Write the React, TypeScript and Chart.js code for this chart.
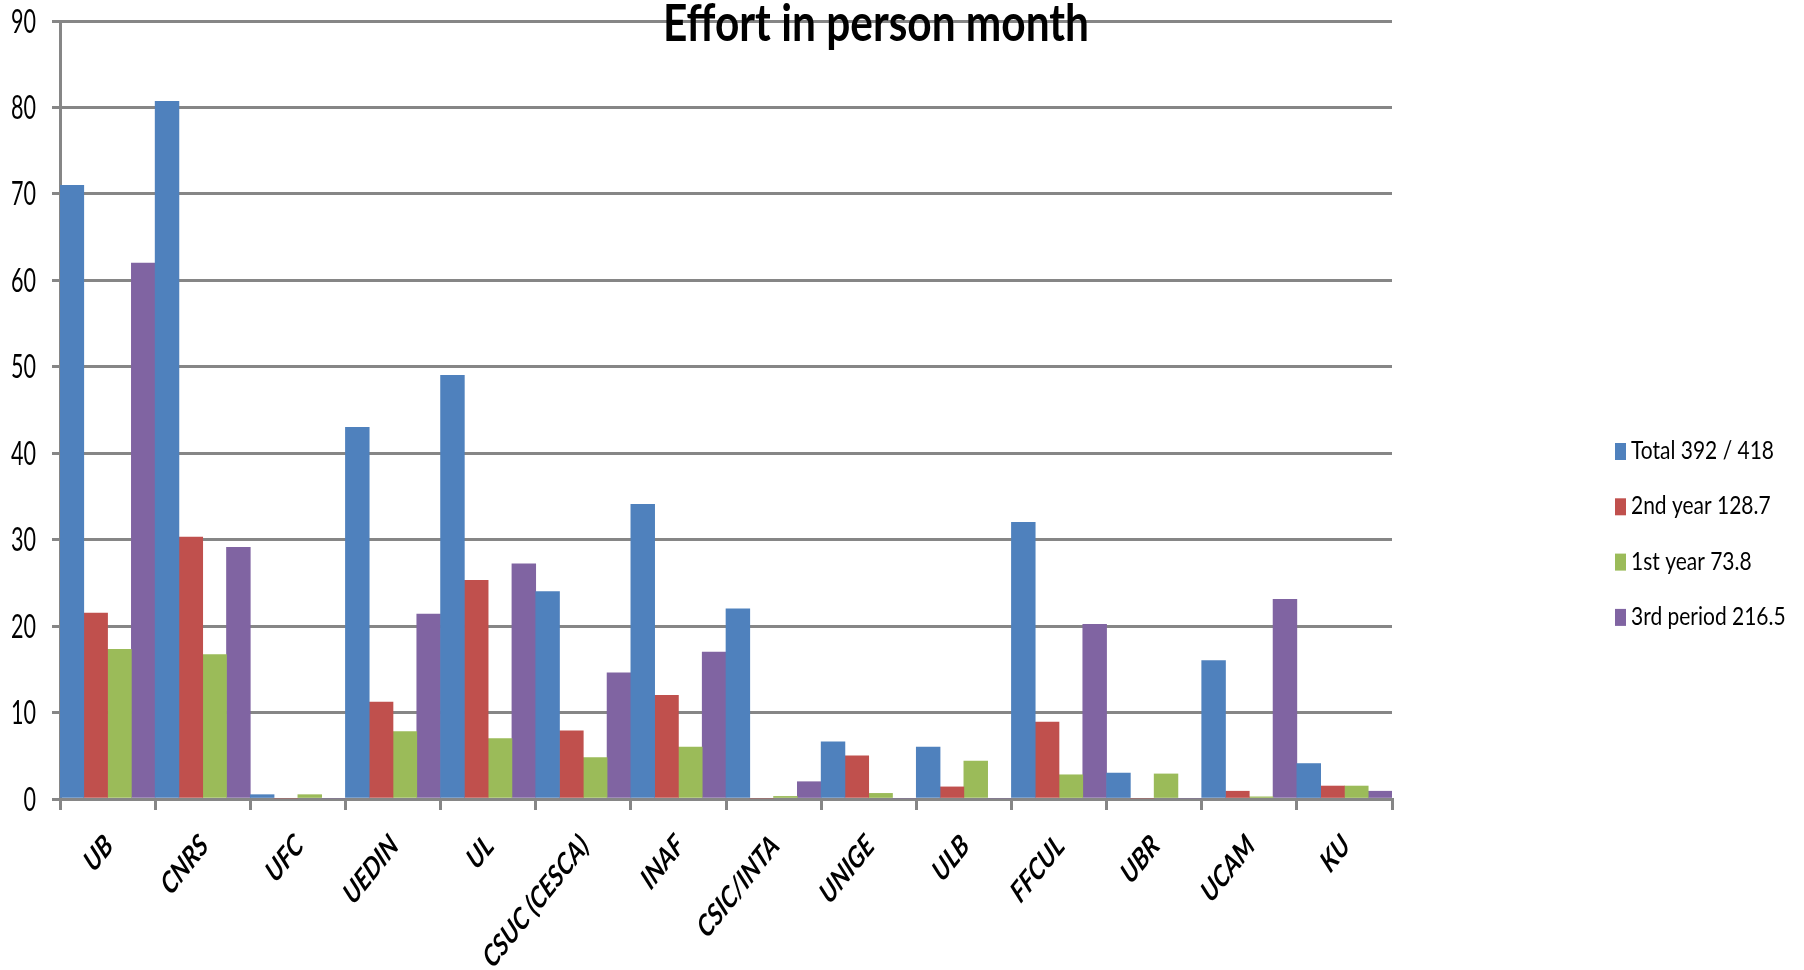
import React, { useEffect, useRef } from "react";
import { Chart, registerables } from "chart.js";

Chart.register(...registerables);

const FONT = "Lato, 'Open Sans', sans-serif";

const TITLE = "Effort in person month";

const categories = [
  "UB", "CNRS", "UFC", "UEDIN", "UL", "CSUC (CESCA)", "INAF",
  "CSIC/INTA", "UNIGE", "ULB", "FFCUL", "UBR", "UCAM", "KU",
];

const seriesLabels = ["Total 392 / 418", "2nd year 128.7", "1st year 73.8", "3rd period 216.5"];

const totalValues = [71, 80.7, 0.5, 43, 49, 24, 34.1, 22, 6.6, 6, 32, 3, 16, 4.1];
const secondYear = [21.5, 30.3, 0, 11.2, 25.3, 7.9, 12, 0, 5, 1.4, 8.9, 0, 0.9, 1.5];
const firstYear = [17.3, 16.7, 0.5, 7.8, 7, 4.8, 6, 0.3, 0.65, 4.4, 2.8, 2.9, 0.25, 1.5];
const thirdPeriod = [62, 29.1, 0, 21.4, 27.2, 14.6, 17, 2, 0, 0, 20.2, 0, 23.1, 0.9];

const colors = ["#4F81BD", "#C0504D", "#9BBB59", "#8064A2"];

const yTicks = [0, 10, 20, 30, 40, 50, 60, 70, 80, 90];

const GRID = "#868686";
const STRETCH = 1.25;

export default function App() {
  const ref = useRef<HTMLCanvasElement | null>(null);

  useEffect(() => {
    if (!ref.current) return;

    const textPlugin = {
      id: "customText",
      afterDraw(chart: any) {
        const ctx = chart.ctx;
        ctx.save();
        ctx.fillStyle = "#000";
        ctx.textBaseline = "alphabetic";

        // Title
        ctx.font = `bold 52px ${FONT}`;
        let sx = 426 / ctx.measureText(TITLE).width;
        ctx.save();
        ctx.translate(876, 41);
        ctx.scale(sx, 1);
        ctx.textAlign = "center";
        ctx.fillText(TITLE, 0, 0);
        ctx.restore();

        // Y tick labels
        const ys = chart.scales.y;
        ctx.font = `32px ${FONT}`;
        sx = 25 / ctx.measureText("90").width;
        ys.ticks.forEach((t: any) => {
          const py = ys.getPixelForValue(t.value);
          ctx.save();
          ctx.translate(36, py + 11.5);
          ctx.scale(sx, 1);
          ctx.textAlign = "right";
          ctx.fillText(String(t.value), 0, 0);
          ctx.restore();
        });

        // X tick labels (rotated, stretched vertically)
        const xs = chart.scales.x;
        ctx.font = `italic bold 24px ${FONT}`;
        sx = 138 / ctx.measureText("CSUC (CESCA)").width;
        const capH = 17;
        chart.data.labels.forEach((lab: string, i: number) => {
          const px = xs.getPixelForValue(i);
          ctx.save();
          ctx.translate(px + 1, 840);
          ctx.scale(1, STRETCH);
          ctx.rotate(-Math.PI / 4);
          ctx.scale(sx, 1);
          ctx.textAlign = "right";
          ctx.fillText(lab, 0, capH / 2);
          ctx.restore();
        });

        // Legend
        ctx.font = `24.5px ${FONT}`;
        sx = 143 / ctx.measureText(seriesLabels[0]).width;
        chart.data.datasets.forEach((ds: any, i: number) => {
          const base = 459 + i * 55.3;
          ctx.fillStyle = ds.backgroundColor;
          ctx.fillRect(1615, base - 16, 11, 17);
          ctx.fillStyle = "#000";
          ctx.save();
          ctx.translate(1631, base);
          ctx.scale(sx, 1);
          ctx.textAlign = "left";
          ctx.fillText(ds.label, 0, 0);
          ctx.restore();
        });
        ctx.restore();
      },
    };

    const seriesData = [totalValues, secondYear, firstYear, thirdPeriod];

    const chart = new Chart(ref.current, {
      type: "bar",
      data: {
        labels: categories,
        datasets: seriesData.map((d, i) => ({
          label: seriesLabels[i],
          data: d,
          backgroundColor: colors[i],
          borderWidth: 0,
          categoryPercentage: 1,
          barPercentage: 1,
        })),
      },
      options: {
        responsive: false,
        animation: false,
        devicePixelRatio: 1,
        layout: { padding: { top: 21, right: 412, bottom: 0, left: 0 } },
        plugins: {
          legend: { display: false },
          title: { display: false },
          tooltip: { enabled: false },
        },
        scales: {
          x: {
            offset: true,
            afterFit(scale: any) {
              scale.height = 171;
              scale.paddingLeft = 0;
              scale.paddingRight = 0;
            },
            grid: {
              display: true,
              drawOnChartArea: false,
              drawTicks: true,
              tickLength: 11,
              offset: true,
              color: GRID,
              lineWidth: 3,
            },
            border: { display: true, color: GRID, width: 3 },
            ticks: { display: false, autoSkip: false },
          },
          y: {
            min: 0,
            max: 90,
            afterFit(scale: any) {
              scale.width = 60;
              scale.paddingTop = 0;
              scale.paddingBottom = 0;
            },
            afterBuildTicks(scale: any) {
              scale.ticks = yTicks.map((v) => ({ value: v }));
            },
            grid: {
              color: GRID,
              lineWidth: 3,
              drawTicks: true,
              tickLength: 8,
            },
            border: { display: true, color: GRID, width: 3 },
            ticks: { display: false },
          },
        },
      },
      plugins: [textPlugin],
    } as any);

    return () => chart.destroy();
  }, []);

  return (
    <div style={{ position: "fixed", left: 0, top: 0, width: 1804, height: 970, background: "#fff" }}>
      <canvas ref={ref} width={1804} height={970} style={{ display: "block" }} />
    </div>
  );
}
